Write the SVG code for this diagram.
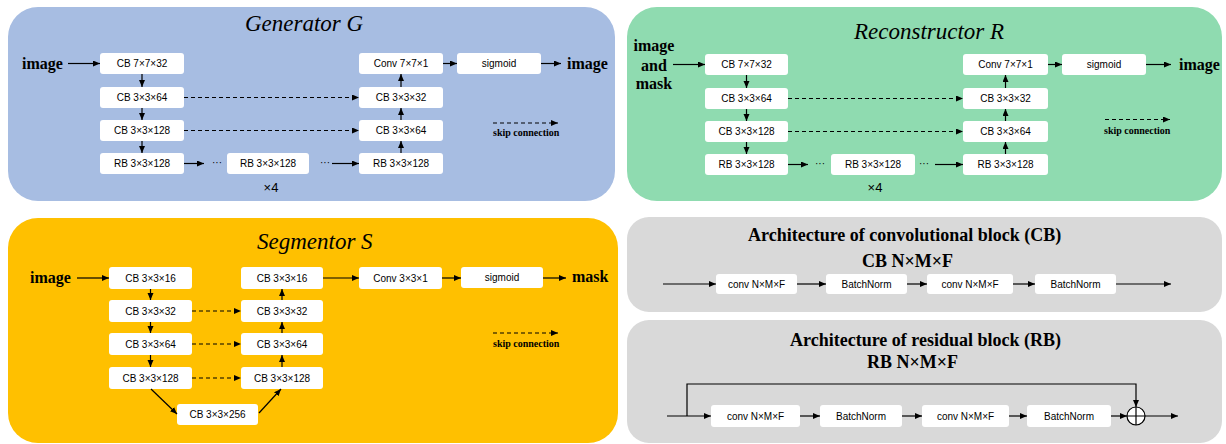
<svg xmlns="http://www.w3.org/2000/svg" width="1226" height="444" viewBox="0 0 1226 444">
<defs>
<marker id="ah" markerUnits="userSpaceOnUse" markerWidth="8" markerHeight="7" refX="7" refY="3" orient="auto"><path d="M0,0 L7,3 L0,6 z" fill="#000"/></marker>
<style>
.box{fill:#fff;}
.t{font-family:"Liberation Sans",Arial,sans-serif;font-size:10px;fill:#000;text-anchor:middle;}
.x4{font-family:"Liberation Sans",Arial,sans-serif;font-size:13px;fill:#000;text-anchor:middle;}
.title{font-family:"Liberation Serif","Times New Roman",serif;font-size:23px;font-style:italic;fill:#000;}
.bt{font-family:"Liberation Serif","Times New Roman",serif;font-weight:bold;fill:#000;}
.c{stroke:#000;stroke-width:1.2;fill:none;marker-end:url(#ah);}
.d{stroke:#000;stroke-width:1.1;fill:none;stroke-dasharray:4,3;marker-end:url(#ah);}
.ln{stroke:#000;stroke-width:1.2;fill:none;}
</style>
</defs>
<rect width="1226" height="444" fill="#fff"/>

<!-- Panels -->
<g id="panel-generator">
<rect x="8" y="7" width="607" height="194" rx="30" fill="#A7BDE2"/>
<text class="title" x="245" y="31">Generator G</text>
<text class="bt" x="22" y="69" font-size="16">image</text>
<text class="bt" x="567" y="69" font-size="16">image</text>
<text class="t" x="217" y="166">···</text>
<text class="t" x="325" y="166">···</text>
<text class="x4" x="271" y="192">×4</text>
<text class="bt" x="493" y="136" font-size="10">skip connection</text>
</g>
<g id="panel-reconstructor">
<rect x="627" y="7" width="595" height="194" rx="30" fill="#8FDBB0"/>
<text class="title" x="854" y="39">Reconstructor R</text>
<text class="bt" x="654" y="51" font-size="16" text-anchor="middle">image</text>
<text class="bt" x="654" y="71" font-size="16" text-anchor="middle">and</text>
<text class="bt" x="654" y="89" font-size="16" text-anchor="middle">mask</text>
<text class="bt" x="1179" y="70" font-size="16">image</text>
<text class="t" x="820" y="167">···</text>
<text class="t" x="924" y="167">···</text>
<text class="x4" x="875" y="192">×4</text>
<text class="bt" x="1104" y="134" font-size="10">skip connection</text>
</g>
<g id="panel-segmentor">
<rect x="8" y="218" width="610" height="225" rx="30" fill="#FFC000"/>
<text class="title" x="257" y="249">Segmentor S</text>
<text class="bt" x="30" y="283" font-size="16">image</text>
<text class="bt" x="572" y="282" font-size="16">mask</text>
<text class="bt" x="493" y="347" font-size="10">skip connection</text>
</g>
<g id="panel-cb">
<rect x="627" y="217" width="595" height="95" rx="22" fill="#D9D9D9"/>
<text class="bt" x="748" y="241" font-size="18">Architecture of convolutional block (CB)</text>
<text class="bt" x="862" y="267" font-size="18">CB N×M×F</text>
</g>
<g id="panel-rb">
<rect x="627" y="320" width="595" height="123" rx="22" fill="#D9D9D9"/>
<text class="bt" x="790" y="346" font-size="18">Architecture of residual block (RB)</text>
<text class="bt" x="867" y="368" font-size="18">RB N×M×F</text>
</g>

<!-- Generator nodes -->
<g id="g-cb1"><rect class="box" x="100" y="53" width="84" height="21" rx="3"/><text class="t" x="142" y="67">CB 7×7×32</text></g>
<g id="g-cb2"><rect class="box" x="100" y="87" width="84" height="21" rx="3"/><text class="t" x="142" y="101">CB 3×3×64</text></g>
<g id="g-cb3"><rect class="box" x="100" y="120" width="84" height="21" rx="3"/><text class="t" x="142" y="134">CB 3×3×128</text></g>
<g id="g-rb1"><rect class="box" x="100" y="153" width="84" height="21" rx="3"/><text class="t" x="142" y="167">RB 3×3×128</text></g>
<g id="g-rb2"><rect class="box" x="227" y="153" width="82" height="21" rx="3"/><text class="t" x="268" y="167">RB 3×3×128</text></g>
<g id="g-rb3"><rect class="box" x="359" y="153" width="84" height="21" rx="3"/><text class="t" x="401" y="167">RB 3×3×128</text></g>
<g id="g-cb4"><rect class="box" x="359" y="120" width="84" height="21" rx="3"/><text class="t" x="401" y="134">CB 3×3×64</text></g>
<g id="g-cb5"><rect class="box" x="359" y="87" width="84" height="21" rx="3"/><text class="t" x="401" y="101">CB 3×3×32</text></g>
<g id="g-conv"><rect class="box" x="359" y="53" width="84" height="21" rx="3"/><text class="t" x="401" y="67">Conv 7×7×1</text></g>
<g id="g-sig"><rect class="box" x="457" y="53" width="84" height="21" rx="3"/><text class="t" x="499" y="67">sigmoid</text></g>

<!-- Reconstructor nodes -->
<g id="r-cb1"><rect class="box" x="705" y="54" width="83" height="21" rx="3"/><text class="t" x="746.5" y="68">CB 7×7×32</text></g>
<g id="r-cb2"><rect class="box" x="705" y="88" width="83" height="21" rx="3"/><text class="t" x="746.5" y="102">CB 3×3×64</text></g>
<g id="r-cb3"><rect class="box" x="705" y="121" width="83" height="21" rx="3"/><text class="t" x="746.5" y="135">CB 3×3×128</text></g>
<g id="r-rb1"><rect class="box" x="705" y="154" width="83" height="21" rx="3"/><text class="t" x="746.5" y="168">RB 3×3×128</text></g>
<g id="r-rb2"><rect class="box" x="831" y="154" width="84" height="21" rx="3"/><text class="t" x="873" y="168">RB 3×3×128</text></g>
<g id="r-rb3"><rect class="box" x="963" y="154" width="85" height="21" rx="3"/><text class="t" x="1005.5" y="168">RB 3×3×128</text></g>
<g id="r-cb4"><rect class="box" x="963" y="121" width="85" height="21" rx="3"/><text class="t" x="1005.5" y="135">CB 3×3×64</text></g>
<g id="r-cb5"><rect class="box" x="963" y="88" width="85" height="21" rx="3"/><text class="t" x="1005.5" y="102">CB 3×3×32</text></g>
<g id="r-conv"><rect class="box" x="963" y="54" width="85" height="21" rx="3"/><text class="t" x="1005.5" y="68">Conv 7×7×1</text></g>
<g id="r-sig"><rect class="box" x="1062" y="54" width="84" height="21" rx="3"/><text class="t" x="1104" y="68">sigmoid</text></g>

<!-- Segmentor nodes -->
<g id="s-cb1"><rect class="box" x="109" y="267" width="83" height="22" rx="3"/><text class="t" x="150.5" y="281.5">CB 3×3×16</text></g>
<g id="s-cb2"><rect class="box" x="109" y="300" width="83" height="22" rx="3"/><text class="t" x="150.5" y="314.5">CB 3×3×32</text></g>
<g id="s-cb3"><rect class="box" x="109" y="333" width="83" height="22" rx="3"/><text class="t" x="150.5" y="347.5">CB 3×3×64</text></g>
<g id="s-cb4"><rect class="box" x="109" y="367" width="83" height="22" rx="3"/><text class="t" x="150.5" y="381.5">CB 3×3×128</text></g>
<g id="s-cb5"><rect class="box" x="177" y="404" width="81" height="21" rx="3"/><text class="t" x="217.5" y="418">CB 3×3×256</text></g>
<g id="s-cb6"><rect class="box" x="241" y="367" width="82" height="22" rx="3"/><text class="t" x="282" y="381.5">CB 3×3×128</text></g>
<g id="s-cb7"><rect class="box" x="241" y="333" width="82" height="22" rx="3"/><text class="t" x="282" y="347.5">CB 3×3×64</text></g>
<g id="s-cb8"><rect class="box" x="241" y="300" width="82" height="22" rx="3"/><text class="t" x="282" y="314.5">CB 3×3×32</text></g>
<g id="s-cb9"><rect class="box" x="241" y="267" width="82" height="22" rx="3"/><text class="t" x="282" y="281.5">CB 3×3×16</text></g>
<g id="s-conv"><rect class="box" x="359" y="267" width="83" height="22" rx="3"/><text class="t" x="400.5" y="281.5">Conv 3×3×1</text></g>
<g id="s-sig"><rect class="box" x="461" y="267" width="82" height="21" rx="3"/><text class="t" x="502" y="281">sigmoid</text></g>

<!-- CB architecture nodes -->
<g id="cb-conv1"><rect class="box" x="716" y="274" width="81" height="20" rx="3"/><text class="t" x="756.5" y="287.5">conv N×M×F</text></g>
<g id="cb-bn1"><rect class="box" x="826" y="274" width="81" height="20" rx="3"/><text class="t" x="866.5" y="287.5">BatchNorm</text></g>
<g id="cb-conv2"><rect class="box" x="927" y="274" width="86" height="20" rx="3"/><text class="t" x="970" y="287.5">conv N×M×F</text></g>
<g id="cb-bn2"><rect class="box" x="1035" y="274" width="81" height="20" rx="3"/><text class="t" x="1075.5" y="287.5">BatchNorm</text></g>

<!-- RB architecture nodes -->
<g id="rb-conv1"><rect class="box" x="711" y="405" width="89" height="22" rx="3"/><text class="t" x="755.5" y="419.5">conv N×M×F</text></g>
<g id="rb-bn1"><rect class="box" x="820" y="405" width="82" height="22" rx="3"/><text class="t" x="861" y="419.5">BatchNorm</text></g>
<g id="rb-conv2"><rect class="box" x="922" y="405" width="87" height="22" rx="3"/><text class="t" x="965.5" y="419.5">conv N×M×F</text></g>
<g id="rb-bn2"><rect class="box" x="1027" y="405" width="84" height="22" rx="3"/><text class="t" x="1069" y="419.5">BatchNorm</text></g>
<g id="rb-add"><circle cx="1136" cy="416" r="9" fill="#fff" stroke="#000" stroke-width="1.2"/><path d="M1127,416 H1145 M1136,407 V425" class="ln"/></g>

<!-- Connectors -->
<g id="connectors">
<!-- Generator -->
<path class="c" d="M68,63.5 H100"/>
<path class="c" d="M142,74 V87"/>
<path class="c" d="M142,108 V120"/>
<path class="c" d="M142,141 V153"/>
<path class="c" d="M184,163.5 H204"/>
<path class="c" d="M332,163.5 H359"/>
<path class="c" d="M401,153 V141"/>
<path class="c" d="M401,120 V108"/>
<path class="c" d="M401,87 V74"/>
<path class="c" d="M443,63.5 H457"/>
<path class="c" d="M541,63.5 H561"/>
<path class="d" d="M184,97.5 H359"/>
<path class="d" d="M184,130.5 H359"/>
<path class="d" d="M493,123 H558"/>
<!-- Reconstructor -->
<path class="c" d="M673,64.5 H705"/>
<path class="c" d="M746.5,75 V88"/>
<path class="c" d="M746.5,109 V121"/>
<path class="c" d="M746.5,142 V154"/>
<path class="c" d="M788,164.5 H808"/>
<path class="c" d="M935,164.5 H963"/>
<path class="c" d="M1005.5,154 V142"/>
<path class="c" d="M1005.5,121 V109"/>
<path class="c" d="M1005.5,88 V75"/>
<path class="c" d="M1048,64.5 H1062"/>
<path class="c" d="M1146,64.5 H1171"/>
<path class="d" d="M788,98.5 H963"/>
<path class="d" d="M788,131.5 H963"/>
<path class="d" d="M1105,119.5 H1170"/>
<!-- Segmentor -->
<path class="c" d="M77,278 H109"/>
<path class="c" d="M150.5,289 V300"/>
<path class="c" d="M150.5,322 V333"/>
<path class="c" d="M150.5,355 V367"/>
<path class="c" d="M151,389 L177,414"/>
<path class="c" d="M259,413 L281,389"/>
<path class="c" d="M282,367 V355"/>
<path class="c" d="M282,333 V322"/>
<path class="c" d="M282,300 V289"/>
<path class="c" d="M323,278 H359"/>
<path class="c" d="M442,278 H461"/>
<path class="c" d="M543,278 H566"/>
<path class="d" d="M192,311 H241"/>
<path class="d" d="M192,344 H241"/>
<path class="d" d="M192,378 H241"/>
<path class="d" d="M493,333 H558"/>
<!-- CB architecture -->
<path class="c" d="M663,284 H716"/>
<path class="c" d="M797,284 H826"/>
<path class="c" d="M907,284 H927"/>
<path class="c" d="M1013,284 H1035"/>
<path class="c" d="M1116,284 H1171"/>
<!-- RB architecture -->
<path class="c" d="M667,416 H711"/>
<path class="c" d="M687,416 V384 H1136 V407"/>
<path class="c" d="M800,416 H820"/>
<path class="c" d="M902,416 H922"/>
<path class="c" d="M1009,416 H1027"/>
<path class="c" d="M1111,416 H1127"/>
<path class="c" d="M1145,416 H1178"/>
</g>
</svg>
